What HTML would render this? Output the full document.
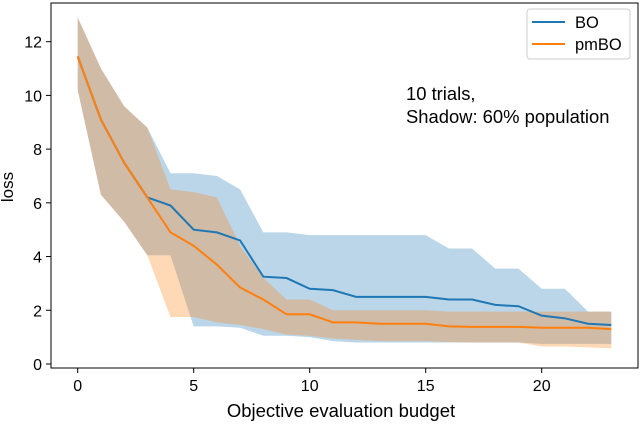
<!DOCTYPE html>
<html><head><meta charset="utf-8"><style>
body{margin:0;background:#fff;}
svg{display:block;font-family:"Liberation Sans",Arial,sans-serif;}
</style></head><body>
<svg id="chart" width="640" height="424" viewBox="0 0 640 424">
<g id="bands"></g><g id="lines"></g>
<rect x="51" y="3" width="587" height="365" fill="none" stroke="#000" stroke-width="1"/>
<g id="ticks"></g>
<text x="341" y="417" font-size="18.5" text-anchor="middle">Objective evaluation budget</text>
<text transform="translate(13,187) rotate(-90)" font-size="17" text-anchor="middle">loss</text>
<g>
<rect x="527" y="9" width="103" height="50" rx="3" fill="#fff" stroke="#ccc"/>
<line x1="532" y1="22" x2="565" y2="22" stroke="#1f77b4" stroke-width="2"/>
<text x="575" y="28" font-size="16.5">BO</text>
<line x1="532" y1="44" x2="565" y2="44" stroke="#ff7f0e" stroke-width="2"/>
<text x="575" y="50" font-size="16.5">pmBO</text>
</g>
<text x="406" y="100" font-size="18.4">10 trials,</text>
<text x="406" y="123" font-size="18.4">Shadow: 60% population</text>
</svg>
<script>
const xs=[0,1,2,3,4,5,6,7,8,9,10,11,12,13,14,15,16,17,18,19,20,21,22,23];
const boMean=[11.45,9.1,7.5,6.2,5.9,5.0,4.9,4.6,3.25,3.2,2.8,2.75,2.5,2.5,2.5,2.5,2.4,2.4,2.2,2.15,1.8,1.7,1.5,1.45];
const boUpper=[12.9,11,9.6,8.8,7.1,7.1,7.0,6.5,4.9,4.9,4.8,4.8,4.8,4.8,4.8,4.8,4.3,4.3,3.55,3.55,2.8,2.8,1.95,1.95];
const boLower=[10.2,6.3,5.3,4.05,4.05,1.4,1.4,1.35,1.05,1.05,1.0,0.85,0.8,0.8,0.8,0.8,0.8,0.8,0.8,0.8,0.75,0.75,0.75,0.75];
const pmMean=[11.45,9.1,7.5,6.2,4.9,4.4,3.7,2.85,2.4,1.85,1.85,1.55,1.55,1.5,1.5,1.5,1.4,1.38,1.38,1.38,1.35,1.35,1.35,1.3];
const pmUpper=[12.9,11,9.6,8.8,6.5,6.4,6.2,4.4,3.2,2.4,2.4,2.0,2.0,2.0,2.0,2.0,1.95,1.95,1.95,1.95,1.95,1.95,1.95,1.95];
const pmLower=[10.2,6.3,5.3,4.05,1.75,1.75,1.55,1.45,1.3,1.1,1.05,0.95,0.9,0.85,0.85,0.85,0.82,0.8,0.8,0.8,0.65,0.65,0.62,0.58];
const xTicks=[0,5,10,15,20];
const yTicks=[0,2,4,6,8,10,12];
const X=v=>77.7+v*23.2, Y=v=>364-v*26.86;
const NS="http://www.w3.org/2000/svg";
const bands=document.getElementById('bands'),lines=document.getElementById('lines'),ticks=document.getElementById('ticks');
function band(up,lo,col,name){const p=document.createElementNS(NS,'path');
let d=xs.map((x,i)=>(i?'L':'M')+X(x)+','+Y(up[i])).join('');
for(let i=xs.length-1;i>=0;i--)d+='L'+X(xs[i])+','+Y(lo[i]);
p.setAttribute('d',d+'Z');p.setAttribute('fill',col);p.setAttribute('fill-opacity','0.3');


bands.appendChild(p);}
function line(m,col,name,start){const p=document.createElementNS(NS,'path');
let d='';for(let i=start;i<xs.length;i++)d+=(i>start?'L':'M')+X(xs[i])+','+Y(m[i]);
p.setAttribute('d',d);p.setAttribute('fill','none');p.setAttribute('stroke',col);p.setAttribute('stroke-width','2');


lines.appendChild(p);}
band(boUpper,boLower,'#1f77b4','bo-band');
band(pmUpper,pmLower,'#ff7f0e','pmbo-band');
line(boMean,'#1f77b4','bo-line',0);
line(pmMean,'#ff7f0e','pmbo-line',0);
xTicks.forEach(t=>{const l=document.createElementNS(NS,'line');l.setAttribute('x1',X(t));l.setAttribute('x2',X(t));l.setAttribute('y1',368);l.setAttribute('y2',373);l.setAttribute('stroke','#000');ticks.appendChild(l);
const tx=document.createElementNS(NS,'text');tx.setAttribute('x',X(t));tx.setAttribute('y',391);tx.setAttribute('font-size','16');tx.setAttribute('text-anchor','middle');tx.textContent=t;


ticks.appendChild(tx);});
yTicks.forEach(t=>{const l=document.createElementNS(NS,'line');l.setAttribute('x1',46);l.setAttribute('x2',51);l.setAttribute('y1',Y(t));l.setAttribute('y2',Y(t));l.setAttribute('stroke','#000');ticks.appendChild(l);
const tx=document.createElementNS(NS,'text');tx.setAttribute('x',42);tx.setAttribute('y',Y(t)+6);tx.setAttribute('font-size','16');tx.setAttribute('text-anchor','end');tx.textContent=t;


ticks.appendChild(tx);});
</script>
</body></html>
